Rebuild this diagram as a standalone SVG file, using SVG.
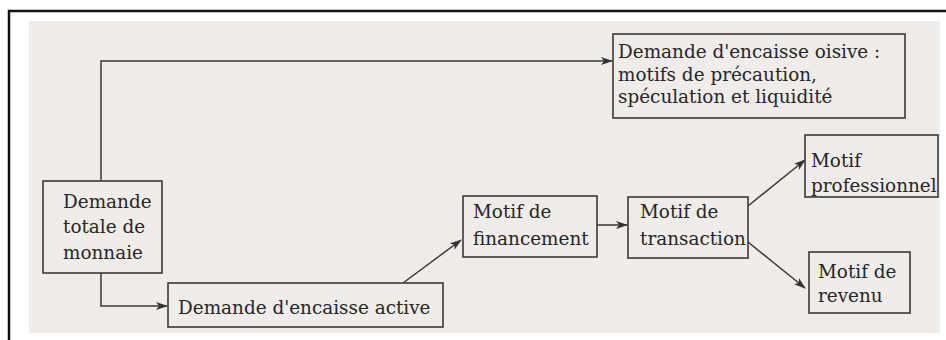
<svg xmlns="http://www.w3.org/2000/svg" width="946" height="340" viewBox="0 0 946 340">
<style>
.bg{fill:#efece9}
.frame{fill:none;stroke:#111;stroke-width:2.5}
.box{fill:none;stroke:#3a3a3a;stroke-width:1.6}
.t{font-family:"DejaVu Serif","Liberation Serif",serif;font-size:18.4px;fill:#262626}
.c{fill:none;stroke:#3a3a3a;stroke-width:1.5}
</style>
<defs>
<marker id="ah" markerWidth="12" markerHeight="8" refX="11" refY="4" orient="auto" markerUnits="userSpaceOnUse">
<path d="M0,0 L12,4 L0,8 L3,4 Z" fill="#333"/>
</marker>
</defs>
<rect x="0" y="0" width="946" height="340" fill="#fff"/>
<rect class="bg" x="29" y="21" width="911" height="312"/>
<path class="frame" d="M9,340 L9,11 L946,11"/>
<g id="connectors">
<path class="c" d="M101,181 L101,61 L612,61" marker-end="url(#ah)"/>
<path class="c" d="M101,273 L101,306 L167,306" marker-end="url(#ah)"/>
<path class="c" d="M403,283 L461,240" marker-end="url(#ah)"/>
<path class="c" d="M597,225 L627,225" marker-end="url(#ah)"/>
<path class="c" d="M748,206 L805,160" marker-end="url(#ah)"/>
<path class="c" d="M748,242 L805,288" marker-end="url(#ah)"/>
</g>
<g id="n-totale">
<rect class="box" x="43" y="181" width="119" height="92"/>
<text class="t" x="63" y="208">Demande</text>
<text class="t" x="63" y="233">totale de</text>
<text class="t" x="63" y="259">monnaie</text>
</g>
<g id="n-active">
<rect class="box" x="168" y="283" width="275" height="44"/>
<text class="t" x="178" y="314">Demande d'encaisse active</text>
</g>
<g id="n-oisive">
<rect class="box" x="613" y="34" width="292" height="84"/>
<text class="t" x="618" y="58">Demande d'encaisse oisive :</text>
<text class="t" x="618" y="81">motifs de précaution,</text>
<text class="t" x="618" y="103">spéculation et liquidité</text>
</g>
<g id="n-financement">
<rect class="box" x="463" y="196" width="134" height="61"/>
<text class="t" x="473" y="218">Motif de</text>
<text class="t" x="473" y="245">financement</text>
</g>
<g id="n-transaction">
<rect class="box" x="628" y="197" width="120" height="61"/>
<text class="t" x="640" y="218">Motif de</text>
<text class="t" x="640" y="245">transaction</text>
</g>
<g id="n-professionnel">
<rect class="box" x="805" y="135" width="133" height="62"/>
<text class="t" x="811" y="167">Motif</text>
<text class="t" x="811" y="192">professionnel</text>
</g>
<g id="n-revenu">
<rect class="box" x="809" y="252" width="101" height="61"/>
<text class="t" x="818" y="278">Motif de</text>
<text class="t" x="818" y="302">revenu</text>
</g>
</svg>
